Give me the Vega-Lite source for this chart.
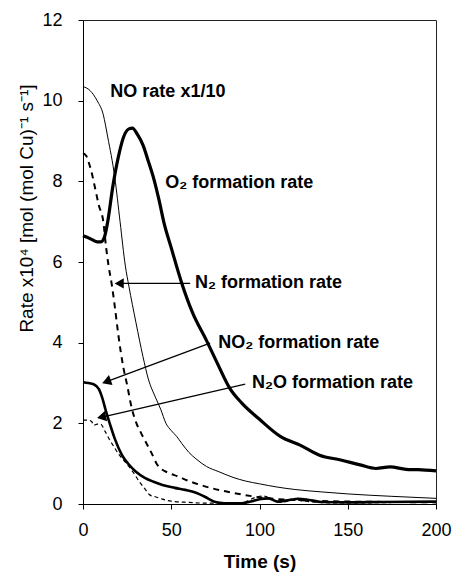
{
  "$schema": "https://vega.github.io/schema/vega-lite/v6.json",
  "autosize": {"type": "none"},
  "padding": {"left": 83, "top": 20, "right": 19, "bottom": 69},
  "width": 353,
  "height": 484,
  "background": "white",
  "config": {
    "font": "Liberation Sans",
    "view": {"stroke": "#222", "strokeWidth": 1},
    "axis": {"grid": false, "domainColor": "#000", "tickColor": "#000", "labelColor": "#000", "titleColor": "#000", "labelFont": "Liberation Sans", "titleFont": "Liberation Sans"}
  },
  "datasets": {
    "curves": [
      {"s": "NO", "t": 0, "v": 10.35}, {"s": "NO", "t": 4, "v": 10.25}, {"s": "NO", "t": 8, "v": 10.0}, {"s": "NO", "t": 11.5, "v": 9.65}, {"s": "NO", "t": 14, "v": 9.1}, {"s": "NO", "t": 18, "v": 8.1}, {"s": "NO", "t": 21, "v": 7.0}, {"s": "NO", "t": 24, "v": 5.9}, {"s": "NO", "t": 26, "v": 5.4}, {"s": "NO", "t": 30, "v": 4.5}, {"s": "NO", "t": 34, "v": 3.65}, {"s": "NO", "t": 37, "v": 3.1}, {"s": "NO", "t": 41, "v": 2.65}, {"s": "NO", "t": 44, "v": 2.35}, {"s": "NO", "t": 47, "v": 2.0}, {"s": "NO", "t": 50, "v": 1.82}, {"s": "NO", "t": 53, "v": 1.68}, {"s": "NO", "t": 56, "v": 1.5}, {"s": "NO", "t": 60, "v": 1.28}, {"s": "NO", "t": 64, "v": 1.12}, {"s": "NO", "t": 70, "v": 0.93}, {"s": "NO", "t": 77, "v": 0.8}, {"s": "NO", "t": 85, "v": 0.66}, {"s": "NO", "t": 92, "v": 0.57}, {"s": "NO", "t": 100, "v": 0.5}, {"s": "NO", "t": 110, "v": 0.42}, {"s": "NO", "t": 120, "v": 0.36}, {"s": "NO", "t": 135, "v": 0.3}, {"s": "NO", "t": 150, "v": 0.25}, {"s": "NO", "t": 175, "v": 0.19}, {"s": "NO", "t": 200, "v": 0.14},

      {"s": "O2", "t": 0, "v": 6.65}, {"s": "O2", "t": 4, "v": 6.58}, {"s": "O2", "t": 8, "v": 6.5}, {"s": "O2", "t": 10, "v": 6.5}, {"s": "O2", "t": 12, "v": 6.6}, {"s": "O2", "t": 14, "v": 7.0}, {"s": "O2", "t": 17, "v": 7.9}, {"s": "O2", "t": 20, "v": 8.6}, {"s": "O2", "t": 23, "v": 9.1}, {"s": "O2", "t": 26, "v": 9.3}, {"s": "O2", "t": 28, "v": 9.32}, {"s": "O2", "t": 31, "v": 9.15}, {"s": "O2", "t": 34, "v": 8.9}, {"s": "O2", "t": 37, "v": 8.5}, {"s": "O2", "t": 40.5, "v": 8.0}, {"s": "O2", "t": 43, "v": 7.55}, {"s": "O2", "t": 46, "v": 6.95}, {"s": "O2", "t": 50, "v": 6.35}, {"s": "O2", "t": 56, "v": 5.47}, {"s": "O2", "t": 62, "v": 4.75}, {"s": "O2", "t": 70, "v": 4.05}, {"s": "O2", "t": 76, "v": 3.5}, {"s": "O2", "t": 83, "v": 2.88}, {"s": "O2", "t": 90, "v": 2.5}, {"s": "O2", "t": 100, "v": 2.1}, {"s": "O2", "t": 112, "v": 1.67}, {"s": "O2", "t": 123, "v": 1.46}, {"s": "O2", "t": 134, "v": 1.21}, {"s": "O2", "t": 146, "v": 1.09}, {"s": "O2", "t": 157, "v": 0.97}, {"s": "O2", "t": 166, "v": 0.88}, {"s": "O2", "t": 174, "v": 0.92}, {"s": "O2", "t": 183, "v": 0.86}, {"s": "O2", "t": 190, "v": 0.85}, {"s": "O2", "t": 200, "v": 0.82},

      {"s": "N2", "t": 0, "v": 8.7}, {"s": "N2", "t": 2, "v": 8.62}, {"s": "N2", "t": 3, "v": 8.5}, {"s": "N2", "t": 5, "v": 8.2}, {"s": "N2", "t": 7, "v": 7.8}, {"s": "N2", "t": 9, "v": 7.4}, {"s": "N2", "t": 11.5, "v": 7.0}, {"s": "N2", "t": 13, "v": 6.4}, {"s": "N2", "t": 14.5, "v": 5.9}, {"s": "N2", "t": 16.2, "v": 5.47}, {"s": "N2", "t": 18, "v": 4.9}, {"s": "N2", "t": 20, "v": 4.2}, {"s": "N2", "t": 22.8, "v": 3.4}, {"s": "N2", "t": 25, "v": 2.95}, {"s": "N2", "t": 27.5, "v": 2.4}, {"s": "N2", "t": 30.3, "v": 2.0}, {"s": "N2", "t": 33, "v": 1.75}, {"s": "N2", "t": 36, "v": 1.5}, {"s": "N2", "t": 39, "v": 1.25}, {"s": "N2", "t": 42, "v": 0.98}, {"s": "N2", "t": 44, "v": 0.88}, {"s": "N2", "t": 48, "v": 0.78}, {"s": "N2", "t": 54, "v": 0.68}, {"s": "N2", "t": 60, "v": 0.57}, {"s": "N2", "t": 66, "v": 0.48}, {"s": "N2", "t": 73, "v": 0.39}, {"s": "N2", "t": 80, "v": 0.32}, {"s": "N2", "t": 92, "v": 0.22}, {"s": "N2", "t": 105, "v": 0.14}, {"s": "N2", "t": 120, "v": 0.1}, {"s": "N2", "t": 130, "v": 0.08}, {"s": "N2", "t": 150, "v": 0.06}, {"s": "N2", "t": 175, "v": 0.05}, {"s": "N2", "t": 200, "v": 0.04},

      {"s": "NO2", "t": 0, "v": 3.02}, {"s": "NO2", "t": 3, "v": 3.0}, {"s": "NO2", "t": 6, "v": 2.97}, {"s": "NO2", "t": 9, "v": 2.85}, {"s": "NO2", "t": 11, "v": 2.62}, {"s": "NO2", "t": 13, "v": 2.3}, {"s": "NO2", "t": 15.5, "v": 1.95}, {"s": "NO2", "t": 18, "v": 1.62}, {"s": "NO2", "t": 22, "v": 1.22}, {"s": "NO2", "t": 26, "v": 0.98}, {"s": "NO2", "t": 30, "v": 0.8}, {"s": "NO2", "t": 35, "v": 0.65}, {"s": "NO2", "t": 40, "v": 0.55}, {"s": "NO2", "t": 45, "v": 0.47}, {"s": "NO2", "t": 52, "v": 0.4}, {"s": "NO2", "t": 58, "v": 0.35}, {"s": "NO2", "t": 64, "v": 0.28}, {"s": "NO2", "t": 69, "v": 0.18}, {"s": "NO2", "t": 75, "v": 0.05}, {"s": "NO2", "t": 80, "v": 0.02}, {"s": "NO2", "t": 90, "v": 0.02}, {"s": "NO2", "t": 95, "v": 0.06}, {"s": "NO2", "t": 100, "v": 0.12}, {"s": "NO2", "t": 105, "v": 0.14}, {"s": "NO2", "t": 110, "v": 0.06}, {"s": "NO2", "t": 117, "v": 0.1}, {"s": "NO2", "t": 122, "v": 0.13}, {"s": "NO2", "t": 128, "v": 0.1}, {"s": "NO2", "t": 135, "v": 0.05}, {"s": "NO2", "t": 150, "v": 0.04}, {"s": "NO2", "t": 170, "v": 0.05}, {"s": "NO2", "t": 200, "v": 0.06},

      {"s": "N2O", "t": 0, "v": 2.08}, {"s": "N2O", "t": 3, "v": 2.08}, {"s": "N2O", "t": 5, "v": 2.04}, {"s": "N2O", "t": 6, "v": 1.95}, {"s": "N2O", "t": 8, "v": 1.98}, {"s": "N2O", "t": 10, "v": 1.98}, {"s": "N2O", "t": 12.5, "v": 1.8}, {"s": "N2O", "t": 15, "v": 1.6}, {"s": "N2O", "t": 17.5, "v": 1.42}, {"s": "N2O", "t": 20, "v": 1.25}, {"s": "N2O", "t": 23, "v": 1.09}, {"s": "N2O", "t": 26, "v": 0.93}, {"s": "N2O", "t": 29, "v": 0.75}, {"s": "N2O", "t": 32, "v": 0.55}, {"s": "N2O", "t": 35, "v": 0.38}, {"s": "N2O", "t": 38, "v": 0.22}, {"s": "N2O", "t": 41, "v": 0.18}, {"s": "N2O", "t": 45, "v": 0.12}, {"s": "N2O", "t": 50, "v": 0.07}, {"s": "N2O", "t": 60, "v": 0.04}, {"s": "N2O", "t": 70, "v": 0.02}, {"s": "N2O", "t": 80, "v": 0.02}, {"s": "N2O", "t": 90, "v": 0.03}, {"s": "N2O", "t": 97, "v": 0.15}, {"s": "N2O", "t": 102, "v": 0.2}, {"s": "N2O", "t": 107, "v": 0.12}, {"s": "N2O", "t": 112, "v": 0.04}, {"s": "N2O", "t": 120, "v": 0.1}, {"s": "N2O", "t": 125, "v": 0.08}, {"s": "N2O", "t": 130, "v": 0.05}, {"s": "N2O", "t": 140, "v": 0.03}, {"s": "N2O", "t": 160, "v": 0.03}, {"s": "N2O", "t": 180, "v": 0.04}, {"s": "N2O", "t": 200, "v": 0.05}
    ],
    "labels": [
      {"label": "NO rate x1/10", "t": 15.5, "v": 10.22},
      {"label": "O₂ formation rate", "t": 46.6, "v": 7.97},
      {"label": "N₂ formation rate", "t": 63.5, "v": 5.47},
      {"label": "NO₂ formation rate", "t": 76.6, "v": 4.0},
      {"label": "N₂O formation rate", "t": 95.7, "v": 3.0}
    ],
    "arrows": [
      {"name": "N2", "t": 60.7, "v": 5.47, "t2": 20.5, "v2": 5.47},
      {"name": "NO2", "t": 72, "v": 3.99, "t2": 13.0, "v2": 3.03},
      {"name": "N2O", "t": 91.9, "v": 2.97, "t2": 10.2, "v2": 2.15}
    ],
    "heads": [
      {"name": "N2", "t": 20.5, "v": 5.47},
      {"name": "NO2", "t": 13.3, "v": 3.035},
      {"name": "N2O", "t": 10.5, "v": 2.155}
    ]
  },
  "encoding": {
    "x": {"field": "t", "type": "quantitative", "scale": {"domain": [0, 200], "nice": false},
      "axis": {"title": "Time (s)", "values": [0, 50, 100, 150, 200], "labelFontSize": 18, "titleFontSize": 19, "titleFontWeight": "bold", "tickSize": 5, "labelPadding": 12, "titlePadding": 13, "labelFlush": false}},
    "y": {"field": "v", "type": "quantitative", "scale": {"domain": [0, 12], "nice": false},
      "axis": {"title": "Rate x10⁴ [mol (mol Cu)⁻¹ s⁻¹]", "values": [0, 2, 4, 6, 8, 10, 12], "labelFontSize": 18, "titleFontSize": 19, "titleFontWeight": "normal", "tickSize": 5, "labelPadding": 16, "titlePadding": 5, "titleY": 188, "labelFlush": false}}
  },
  "layer": [
    {"data": {"name": "curves"}, "transform": [{"filter": "datum.s === 'NO'"}], "mark": {"type": "line", "color": "#000", "strokeWidth": 1, "interpolate": "monotone"}},
    {"data": {"name": "curves"}, "transform": [{"filter": "datum.s === 'O2'"}], "mark": {"type": "line", "color": "#000", "strokeWidth": 3.2, "interpolate": "monotone"}},
    {"data": {"name": "curves"}, "transform": [{"filter": "datum.s === 'N2'"}], "mark": {"type": "line", "color": "#000", "strokeWidth": 2, "strokeDash": [6, 5], "interpolate": "monotone"}},
    {"data": {"name": "curves"}, "transform": [{"filter": "datum.s === 'NO2'"}], "mark": {"type": "line", "color": "#000", "strokeWidth": 2.6, "interpolate": "monotone"}},
    {"data": {"name": "curves"}, "transform": [{"filter": "datum.s === 'N2O'"}], "mark": {"type": "line", "color": "#000", "strokeWidth": 1.2, "strokeDash": [4, 3], "interpolate": "monotone"}},
    {"data": {"name": "arrows"}, "mark": {"type": "rule", "color": "#000", "strokeWidth": 1.3},
      "encoding": {"x2": {"field": "t2"}, "y2": {"field": "v2"}}},
    {"data": {"name": "heads"}, "transform": [{"filter": "datum.name === 'N2'"}], "mark": {"type": "point", "shape": "triangle-left", "filled": true, "color": "#000", "opacity": 1, "size": 110, "angle": 0}},
    {"data": {"name": "heads"}, "transform": [{"filter": "datum.name === 'NO2'"}], "mark": {"type": "point", "shape": "triangle-left", "filled": true, "color": "#000", "opacity": 1, "size": 110, "angle": -20}},
    {"data": {"name": "heads"}, "transform": [{"filter": "datum.name === 'N2O'"}], "mark": {"type": "point", "shape": "triangle-left", "filled": true, "color": "#000", "opacity": 1, "size": 110, "angle": -13}},
    {"data": {"name": "labels"}, "mark": {"type": "text", "align": "left", "baseline": "middle", "fontSize": 18, "fontWeight": "bold", "color": "#000", "font": "Liberation Sans"},
      "encoding": {"text": {"field": "label"}}}
  ]
}
